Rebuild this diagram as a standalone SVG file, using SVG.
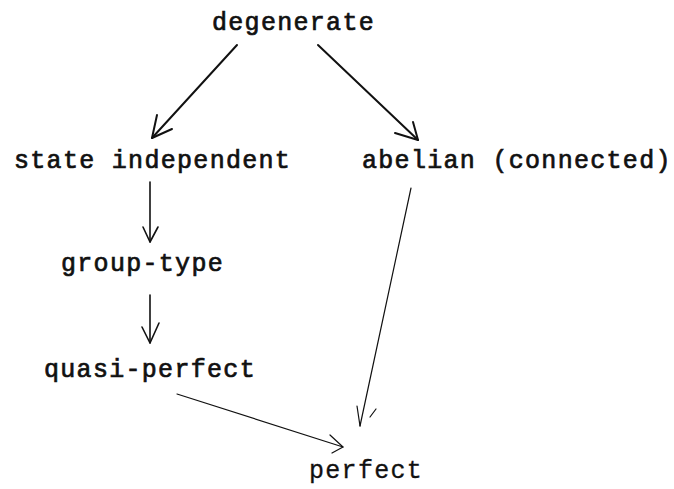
<svg xmlns="http://www.w3.org/2000/svg" width="674" height="489" viewBox="0 0 674 489">
  <style>
    .label { font-family: "Liberation Mono", "DejaVu Sans Mono", monospace; font-size: 25px; letter-spacing: 1.3px; fill: #111; stroke: #111; stroke-width: 0.7px; }
    .label.thin { stroke-width: 0.3px; }
    .edge { fill: none; stroke: #111; stroke-linecap: round; stroke-linejoin: round; }
    .heavy { stroke-width: 2; }
    .mid { stroke-width: 1.6; }
    .light { stroke-width: 1.2; }
  </style>
  <rect width="674" height="489" fill="#fff"/>

  <g id="connectors">
    <!-- degenerate -> state independent -->
    <g id="e-degenerate-state" class="edge heavy">
      <path d="M237,45 L152,138"/>
      <path d="M157,115 L152,138 L172,129"/>
    </g>
    <!-- degenerate -> abelian -->
    <g id="e-degenerate-abelian" class="edge heavy">
      <path d="M318,45 L418,140"/>
      <path d="M413,122 L418,140 L395,133"/>
    </g>
    <!-- state independent -> group-type -->
    <g id="e-state-group" class="edge mid">
      <path d="M150,182 L150,242"/>
      <path d="M143,227 L150,242 L158,227"/>
    </g>
    <!-- group-type -> quasi-perfect -->
    <g id="e-group-quasi" class="edge mid">
      <path d="M150,295 L150,343"/>
      <path d="M142,327 L150,343 L159,323"/>
    </g>
    <!-- quasi-perfect -> perfect -->
    <g id="e-quasi-perfect" class="edge light">
      <path d="M177,394 L343,447"/>
      <path d="M330,435 L343,447 L332,453"/>
    </g>
    <!-- abelian -> perfect -->
    <g id="e-abelian-perfect" class="edge light">
      <path d="M411,188 L360,426"/>
      <path d="M357,406 L360,426"/>
      <path d="M370,417 L376,409"/>
    </g>
  </g>

  <g id="n-degenerate"><text class="label" x="212" y="30">degenerate</text></g>
  <g id="n-state-independent"><text class="label" x="14" y="168">state independent</text></g>
  <g id="n-abelian"><text class="label" x="362" y="168">abelian (connected)</text></g>
  <g id="n-group-type"><text class="label" x="61" y="271">group-type</text></g>
  <g id="n-quasi-perfect"><text class="label" x="44" y="377">quasi-perfect</text></g>
  <g id="n-perfect"><text class="label thin" x="309" y="478">perfect</text></g>
</svg>
